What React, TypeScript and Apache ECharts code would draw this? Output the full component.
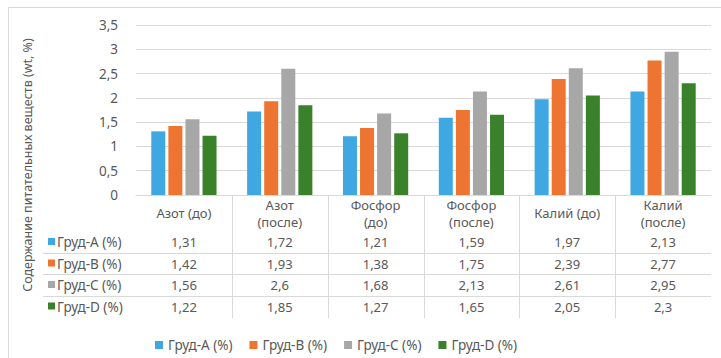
import React, { useEffect, useRef } from "react";
import * as echarts from "echarts";

const categories = ["Азот (до)", "Азот\n(после)", "Фосфор\n(до)", "Фосфор\n(после)", "Калий (до)", "Калий\n(после)"];
const seriesNames = ["Груд-A (%)", "Груд-B (%)", "Груд-C (%)", "Груд-D (%)"];
const grudA = [1.31, 1.72, 1.21, 1.59, 1.97, 2.13];
const grudB = [1.42, 1.93, 1.38, 1.75, 2.39, 2.77];
const grudC = [1.56, 2.6, 1.68, 2.13, 2.61, 2.95];
const grudD = [1.22, 1.85, 1.27, 1.65, 2.05, 2.3];
const yMin = 0;
const yMax = 3.5;
const yStep = 0.5;
const yTitle = "Содержание питательных веществ (wt, %)";

const W = 721;
const H = 358;
const GL = 136;
const GR = 10;
const GT = 25;
const AXIS_Y = 195;
const ROW_Y = [242, 263.5, 285, 306.5];
const colors = ["#3fa8e2", "#ed7431", "#a7a7a7", "#3a812b"];
const FONT = "'Noto Sans', 'DejaVu Sans', sans-serif";
const TXT = "#595959";
const LINE = "#d9d9d9";

const fmt = (v: number) => String(v).replace(".", ",");

export default function App() {
  const ref = useRef<HTMLDivElement>(null);
  useEffect(() => {
    if (!ref.current) return;
    const chart = echarts.init(ref.current, undefined, { renderer: "svg" });
    const rows = [grudA, grudB, grudC, grudD];
    const plotW = W - GL - GR;
    const colW = plotW / categories.length;

    const graphics: any[] = [
      {
        type: "rect",
        shape: { x: 8.5, y: 7.5, width: 740, height: 400 },
        style: { fill: "none", stroke: LINE, lineWidth: 1 },
        silent: true,
      },
      {
        type: "text",
        x: 27,
        y: 165,
        rotation: Math.PI / 2,
        style: { text: yTitle, fill: TXT, font: `12.5px ${FONT}`, align: "center", verticalAlign: "middle" },
      },
    ];
    for (let i = 1; i < categories.length; i++) {
      const x = Math.round(GL + i * colW) + 0.5;
      graphics.push({
        type: "line",
        shape: { x1: x, y1: AXIS_Y, x2: x, y2: 318 },
        style: { stroke: LINE, lineWidth: 1 },
        silent: true,
      });
    }
    for (let r = 0; r < 3; r++) {
      const y = Math.round((ROW_Y[r] + ROW_Y[r + 1]) / 2) + 0.5;
      graphics.push({
        type: "line",
        shape: { x1: 43, y1: y, x2: W - GR, y2: y },
        style: { stroke: LINE, lineWidth: 1 },
        silent: true,
      });
    }
    seriesNames.forEach((n, r) => {
      graphics.push({
        type: "rect",
        shape: { x: 48, y: ROW_Y[r] - 4, width: 7, height: 7 },
        style: { fill: colors[r] },
      });
      graphics.push({
        type: "text",
        x: 57,
        y: ROW_Y[r],
        style: { text: n, fill: TXT, font: `13.5px ${FONT}`, align: "left", verticalAlign: "middle" },
      });
    });

    const xAxes: any[] = [
      {
        type: "category",
        data: categories,
        position: "bottom",
        axisLine: { show: true, lineStyle: { color: LINE } },
        axisTick: { show: false },
        axisLabel: {
          color: TXT,
          fontSize: 13,
          fontFamily: FONT,
          lineHeight: 17,
          margin: 18,
          verticalAlign: "middle",
          interval: 0,
          hideOverlap: false,
        },
      },
    ];
    rows.forEach((vals, r) => {
      xAxes.push({
        type: "category",
        data: categories,
        position: "bottom",
        offset: ROW_Y[r] - AXIS_Y,
        axisLine: { show: false },
        axisTick: { show: false },
        axisLabel: {
          color: TXT,
          fontSize: 13,
          fontFamily: FONT,
          margin: 0,
          verticalAlign: "middle",
          interval: 0,
          formatter: (_v: string, idx: number) => fmt(vals[idx]),
        },
      });
    });

    chart.setOption({
      animation: false,
      backgroundColor: "#ffffff",
      color: colors,
      grid: { left: GL, right: GR, top: GT, bottom: H - AXIS_Y, containLabel: false },
      legend: {
        data: seriesNames,
        left: 150,
        top: 333,
        icon: "rect",
        itemWidth: 8,
        itemHeight: 8,
        itemGap: 17,
        textStyle: { color: TXT, fontSize: 13.5, fontFamily: FONT },
      },
      xAxis: xAxes,
      yAxis: {
        type: "value",
        min: yMin,
        max: yMax,
        interval: yStep,
        axisLine: { show: false },
        axisTick: { show: false },
        splitLine: { lineStyle: { color: LINE } },
        axisLabel: { color: TXT, fontSize: 13.5, fontFamily: FONT, margin: 18, formatter: (v: number) => fmt(v) },
      },
      series: rows.map((vals, r) => ({
        name: seriesNames[r],
        type: "bar",
        xAxisIndex: 0,
        data: vals,
        barWidth: 14,
        barGap: "22%",
        itemStyle: { color: colors[r] },
      })),
      graphic: graphics,
    });
    return () => chart.dispose();
  }, []);
  return <div ref={ref} style={{ position: "fixed", left: 0, top: 0, width: W, height: H }} />;
}
